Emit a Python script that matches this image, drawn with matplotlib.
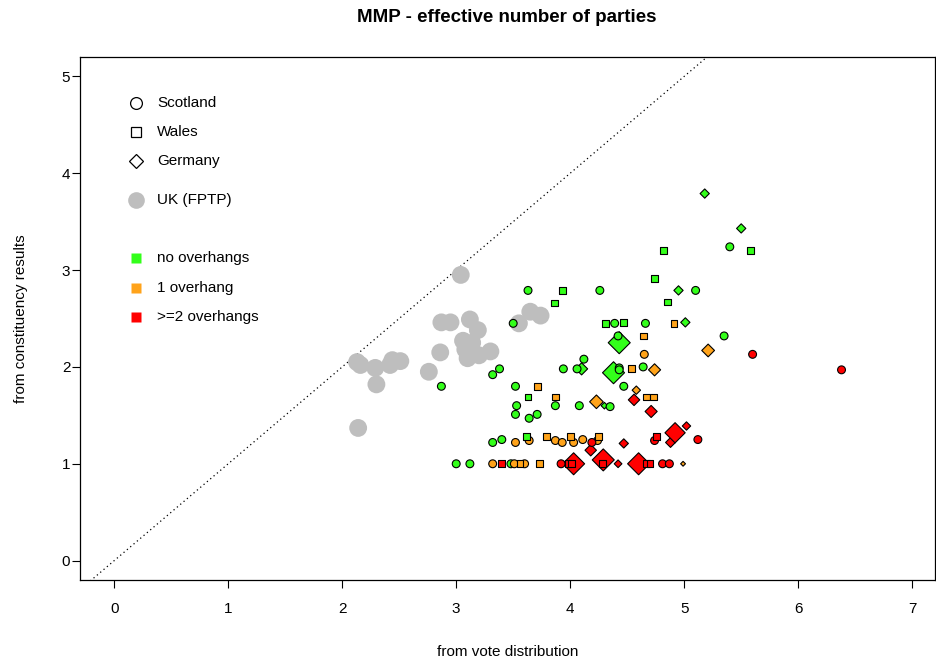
import numpy as np
import matplotlib
matplotlib.use('Agg')
import matplotlib.pyplot as plt

plt.rcParams['font.family'] = ['Liberation Sans', 'DejaVu Sans']

# UK general elections (FPTP)
uk_x = [3.04, 2.87, 2.95, 3.12, 3.19, 3.06, 3.14, 3.08, 3.10, 3.20, 3.30, 2.86,
        2.76, 2.13, 2.16, 2.29, 2.44, 2.51, 2.42, 2.30, 2.14, 3.55, 3.65, 3.74]
uk_y = [2.95, 2.46, 2.46, 2.49, 2.38, 2.27, 2.25, 2.18, 2.09, 2.12, 2.16, 2.15,
        1.95, 2.05, 2.02, 1.99, 2.07, 2.06, 2.02, 1.82, 1.37, 2.45, 2.57, 2.53]

# Scotland (overhang category: 0 none, 1 one, 2 two or more)
sco_x = [3.63, 4.26, 5.10, 3.50, 4.39, 4.66, 5.40, 5.35, 4.42, 4.12, 4.06, 3.94,
         4.43, 4.43, 4.64, 3.38, 3.32, 2.87, 3.52, 4.47, 3.53, 3.87, 4.08, 4.35,
         3.52, 3.64, 3.71, 3.32, 3.40, 3.00, 3.12, 3.48,
         4.65, 3.64, 3.52, 3.87, 3.93, 4.03, 4.11, 4.24, 3.32, 3.51, 3.60,
         5.60, 6.38, 4.19, 4.74, 5.12, 3.92, 4.81, 4.87]
sco_y = [2.79, 2.79, 2.79, 2.45, 2.45, 2.45, 3.24, 2.32, 2.32, 2.08, 1.98, 1.98,
         1.99, 1.97, 2.00, 1.98, 1.92, 1.80, 1.80, 1.80, 1.60, 1.60, 1.60, 1.59,
         1.51, 1.47, 1.51, 1.22, 1.25, 1.00, 1.00, 1.00,
         2.13, 1.24, 1.22, 1.24, 1.22, 1.22, 1.25, 1.24, 1.00, 1.00, 1.00,
         2.13, 1.97, 1.22, 1.24, 1.25, 1.00, 1.00, 1.00]
sco_c = [0] * 32 + [1] * 11 + [2] * 8

# Wales
wal_x = [4.82, 5.58, 4.74, 3.93, 3.86, 4.85, 4.31, 4.47, 3.63, 3.62,
         4.91, 4.64, 4.54, 3.71, 3.87, 4.67, 4.73, 3.79, 4.00, 4.25, 3.56, 3.73,
         3.40, 3.98, 4.01, 4.28, 4.67, 4.70, 4.76]
wal_y = [3.20, 3.20, 2.91, 2.79, 2.66, 2.67, 2.45, 2.46, 1.69, 1.28,
         2.45, 2.32, 1.98, 1.80, 1.69, 1.69, 1.69, 1.28, 1.28, 1.28, 1.00, 1.00,
         1.00, 1.00, 1.00, 1.00, 1.00, 1.00, 1.28]
wal_c = [0] * 10 + [1] * 12 + [2] * 7

# Germany (relative size of each point)
ger_x = [5.18, 5.50, 4.95, 5.01, 4.43, 4.38, 4.10, 4.30, 4.56,
         5.21, 4.74, 4.23, 4.58, 4.99,
         4.56, 4.71, 4.18, 4.47, 4.88, 5.02, 4.92, 4.03, 4.29, 4.60, 4.42]
ger_y = [3.79, 3.43, 2.79, 2.46, 2.25, 1.94, 1.98, 1.60, 1.00,
         2.17, 1.97, 1.64, 1.76, 1.00,
         1.66, 1.54, 1.14, 1.21, 1.22, 1.39, 1.32, 1.00, 1.04, 1.00, 1.00]
ger_c = [0] * 9 + [1] * 5 + [2] * 11
ger_w = [0.42, 0.42, 0.42, 0.42, 1.0, 1.0, 0.55, 0.3, 0.28,
         0.58, 0.55, 0.62, 0.38, 0.22,
         0.52, 0.55, 0.52, 0.42, 0.45, 0.38, 0.92, 1.0, 1.0, 1.0, 0.35]

cols = ['#33ff1a', '#ffa31a', '#ff0000']

fig = plt.figure(figsize=(9.37, 6.6), dpi=100)
ax = fig.add_axes([80 / 937, 80 / 660, 855 / 937, 523 / 660])
ax.set_xlim(-0.3, 7.2)
ax.set_ylim(-0.2, 5.2)

# diagonal y = x
ax.plot([-1, 8], [-1, 8], color='black', lw=0.9, ls=(0, (1, 2.5)), zorder=1)

ax.scatter(uk_x, uk_y, s=165, color='#bebebe', edgecolors='none', zorder=2)

px2pt = 0.72
ger_s = [((22 * w * px2pt) / np.sqrt(2)) ** 2 for w in ger_w]
ax.scatter(ger_x, ger_y, s=ger_s, marker='D', c=[cols[k] for k in ger_c],
           edgecolors='black', linewidths=0.8, zorder=3)
ax.scatter(sco_x, sco_y, s=32, marker='o', c=[cols[k] for k in sco_c],
           edgecolors='black', linewidths=0.8, zorder=4)
ax.scatter(wal_x, wal_y, s=24, marker='s', c=[cols[k] for k in wal_c],
           edgecolors='black', linewidths=0.8, zorder=4)

# legend drawn by hand
lx, tx = 0.0655, 0.090
rows = [(103, 'o', 'none', 'black', 8.5, 'Scotland'),
        (132, 's', 'none', 'black', 7.5, 'Wales'),
        (161, 'D', 'none', 'black', 7, 'Germany'),
        (200, 'o', '#bebebe', 'none', 12, 'UK (FPTP)'),
        (258, 's', cols[0], 'none', 7, 'no overhangs'),
        (288, 's', cols[1], 'none', 7, '1 overhang'),
        (317, 's', cols[2], 'none', 7, '>=2 overhangs')]
for py, m, fc, ec, ms, lab in rows:
    yy = (580 - py) / 523
    ax.plot([lx], [yy], marker=m, ms=ms, mfc=fc, mec=ec, mew=0.9,
            transform=ax.transAxes, zorder=5, clip_on=False)
    ax.text(tx, yy, lab, transform=ax.transAxes, fontsize=11,
            va='center', ha='left')

ax.set_xticks(range(0, 8))
ax.set_yticks(range(0, 6))
ax.tick_params(direction='out', length=6, width=0.8, labelsize=11)
ax.tick_params(axis='x', pad=10)
ax.tick_params(axis='y', pad=1)
for sp in ax.spines.values():
    sp.set_linewidth(0.9)

ax.set_xlabel('from vote distribution', fontsize=11, labelpad=21)
ax.set_ylabel('from constituency results', fontsize=11, labelpad=24)
fig.text(507 / 937, 1 - 17 / 660, 'MMP - effective number of parties',
         fontsize=13.5, fontweight='bold', ha='center', va='center')

fig.savefig('out.png', dpi=100)
